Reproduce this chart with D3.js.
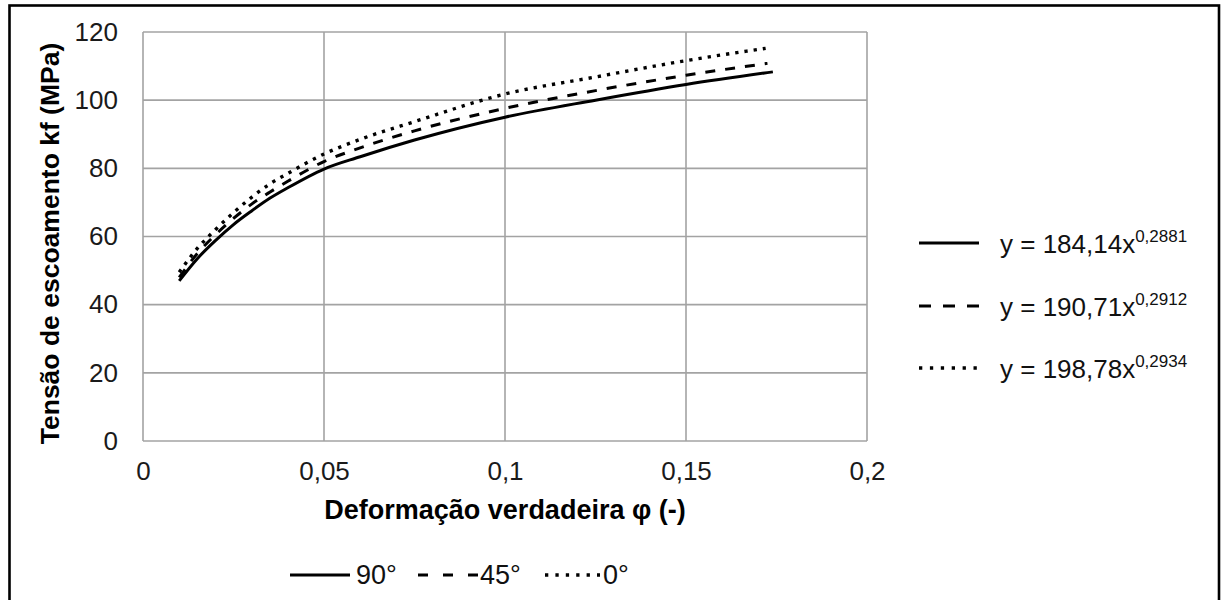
<!DOCTYPE html>
<html><head><meta charset="utf-8">
<script src="https://cdn.jsdelivr.net/npm/d3@7"></script>
<style>
body{margin:0;background:#fff;}
text{font-family:"Liberation Sans",Arial,sans-serif;}
</style></head>
<body><svg id="c" width="1221" height="600"></svg>
<script>
// ---- data ----
const x90 = [0.01, 0.015, 0.02, 0.025, 0.03, 0.035, 0.04, 0.05, 0.06, 0.075, 0.1, 0.125, 0.15, 0.174];
const y90 = [47.0, 53.5, 58.8, 63.5, 67.5, 71.2, 74.3, 79.8, 83.4, 88.3, 95.0, 100.0, 104.6, 108.3];
const x45 = [0.01, 0.015, 0.02, 0.025, 0.03, 0.035, 0.04, 0.05, 0.06, 0.075, 0.1, 0.125, 0.15, 0.1725];
const y45 = [48.0, 55.0, 60.5, 65.3, 69.5, 73.0, 76.2, 82.0, 86.0, 91.0, 97.6, 102.8, 107.3, 110.8];
const x0 = [0.01, 0.015, 0.02, 0.025, 0.03, 0.035, 0.04, 0.05, 0.06, 0.075, 0.1, 0.125, 0.15, 0.172];
const y0 = [49.5, 56.5, 62.0, 67.0, 71.5, 75.4, 78.5, 84.2, 88.5, 93.7, 101.8, 106.8, 111.6, 115.2];
const seriesNames = ["90°", "45°", "0°"];
const trendLabels = ["y = 184,14x", "y = 190,71x", "y = 198,78x"];
const trendExps = ["0,2881", "0,2912", "0,2934"];
const xTicks = [0, 0.05, 0.1, 0.15, 0.2];
const yTicks = [0, 20, 40, 60, 80, 100, 120];
const xTitle = "Deformação verdadeira φ (-)";
const yTitle = "Tensão de escoamento kf (MPa)";

const svg = d3.select("#c");
const W = 1221, H = 600;
svg.append("rect").attr("width", W).attr("height", H).attr("fill", "#fff");
// outer frame
svg.append("rect").attr("x", 9.5).attr("y", 5.5).attr("width", 1209.5).attr("height", 620)
  .attr("fill", "none").attr("stroke", "#000").attr("stroke-width", 2.6);

const L = 143, R = 867, T = 32, B = 441;
const x = d3.scaleLinear().domain([0, 0.2]).range([L, R]);
const y = d3.scaleLinear().domain([0, 120]).range([B, T]);
const loc = d3.formatLocale({decimal: ",", thousands: ".", grouping: [3], currency: ["", ""]});
const fmt = loc.format("~g");

const grid = svg.append("g");
grid.selectAll("line.h").data(yTicks).join("line")
  .attr("x1", L).attr("x2", R).attr("y1", d => y(d)).attr("y2", d => y(d))
  .attr("stroke", "#a3a3a3").attr("stroke-width", 1.6);
grid.selectAll("line.v").data(xTicks).join("line")
  .attr("y1", T).attr("y2", B).attr("x1", d => x(d)).attr("x2", d => x(d))
  .attr("stroke", "#a3a3a3").attr("stroke-width", 1.6);

const ax = svg.append("g").attr("transform", `translate(0,${B})`)
  .call(d3.axisBottom(x).tickValues(xTicks).tickFormat(fmt).tickSize(0).tickPadding(21));
const ay = svg.append("g").attr("transform", `translate(${L},0)`)
  .call(d3.axisLeft(y).tickValues(yTicks).tickFormat(fmt).tickSize(0).tickPadding(25));
[ax, ay].forEach(g => {
  g.select(".domain").remove();
  g.selectAll("text").attr("font-size", 26).attr("fill", "#1a1a1a")
    .attr("font-family", "'Liberation Sans', Arial, sans-serif");
});

svg.append("text").attr("x", (L + R) / 2).attr("y", 519).attr("text-anchor", "middle")
  .attr("font-size", 27).attr("font-weight", "bold").attr("fill", "#000").text(xTitle);
svg.append("text").attr("transform", `translate(59,${(42 + 445) / 2}) rotate(-90)`)
  .attr("text-anchor", "middle").attr("font-size", 26.5).attr("font-weight", "bold")
  .attr("fill", "#000").text(yTitle);

const styles = [
  {dash: null, legDash: null, bDash: null, w: 3},
  {dash: "10 10", legDash: "12 12", bDash: "10 15", w: 3},
  {dash: "3.3 6", legDash: "3.3 7.6", bDash: "3.3 7.1", w: 3.4}
];
const data = [
  x90.map((v, i) => [v, y90[i]]),
  x45.map((v, i) => [v, y45[i]]),
  x0.map((v, i) => [v, y0[i]])
];
const line = d3.line().x(d => x(d[0])).y(d => y(d[1])).curve(d3.curveMonotoneX);
data.forEach((d, i) => {
  svg.append("path").datum(d).attr("d", line).attr("fill", "none")
    .attr("stroke", "#000").attr("stroke-width", styles[i].w)
    .attr("stroke-dasharray", styles[i].dash);
});

// right legend (trendlines)
const rowY = [243, 306, 368];
trendLabels.forEach((t, i) => {
  svg.append("line").attr("x1", 919).attr("x2", 979).attr("y1", rowY[i]).attr("y2", rowY[i])
    .attr("stroke", "#000").attr("stroke-width", styles[i].w).attr("stroke-dasharray", styles[i].legDash);
  const tx = svg.append("text").attr("x", 1000).attr("y", rowY[i] + 10)
    .attr("font-size", 26).attr("fill", "#111").text(t);
  tx.append("tspan").attr("dy", -11).attr("font-size", 17).text(trendExps[i]);
});

// bottom legend
const bl = [{x1: 290, x2: 350, tx: 356}, {x1: 418, x2: 478, tx: 480}, {x1: 545, x2: 600, tx: 603}];
seriesNames.forEach((n, i) => {
  svg.append("line").attr("x1", bl[i].x1).attr("x2", bl[i].x2).attr("y1", 575).attr("y2", 575)
    .attr("stroke", "#000").attr("stroke-width", styles[i].w).attr("stroke-dasharray", styles[i].bDash);
  svg.append("text").attr("x", bl[i].tx).attr("y", 584).attr("font-size", 27)
    .attr("fill", "#111").text(n);
});
</script></body></html>
